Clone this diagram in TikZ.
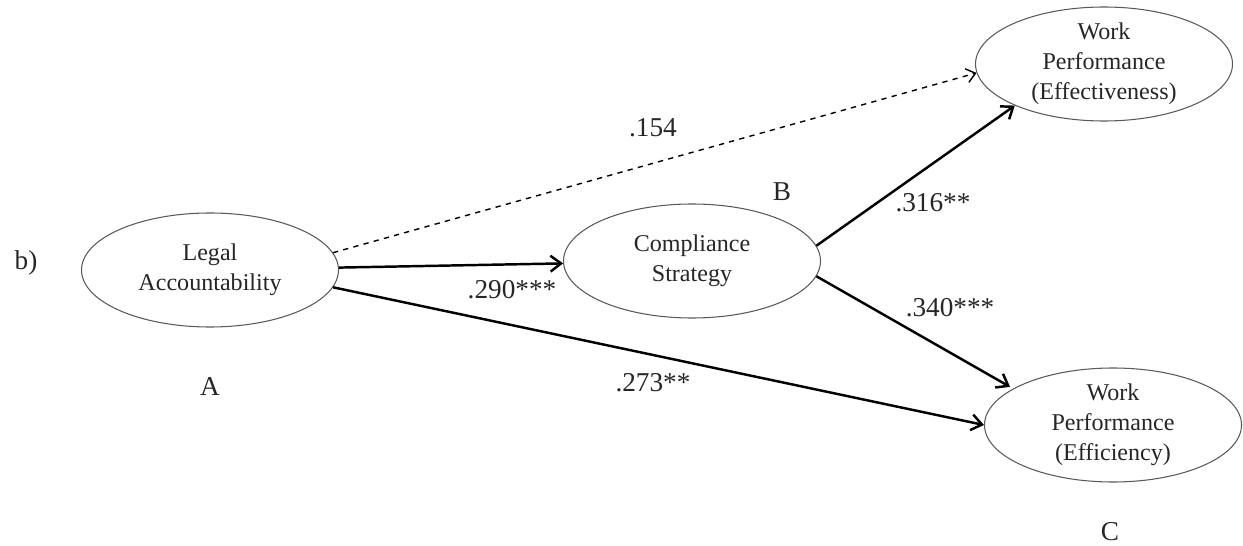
\documentclass[tikz,border=0pt]{standalone}
\usepackage{fontspec}
\setmainfont{Liberation Serif}
\usetikzlibrary{shapes.geometric, arrows.meta, positioning, calc}

\begin{document}
\begin{tikzpicture}[
    var/.style={draw=black!65, line width=0.6pt, ellipse, minimum width=5.14cm, minimum height=2.28cm, inner sep=0pt},
    vtxt/.style={align=center, text=black!85, font=\fontsize{13.7}{17}\selectfont},
    lbl/.style={text=black!85, font=\fontsize{15.5}{18}\selectfont},
    sig/.style={-{Straight Barb[length=6pt,width=9pt]}, line width=1.4pt},
    nsig/.style={-{Straight Barb[length=5pt,width=8pt]}, dashed, line width=0.8pt}
]
    \useasboundingbox (0,0) rectangle (24.86,-10.92);

    \node[var, label={[vtxt]center:{Legal\\Accountability}}] (legal) at (4.2,-5.4) {};
    \node[var, label={[vtxt]center:{Compliance\\Strategy}}] (comp) at (13.84,-5.22) {};
    \node[var, label={[vtxt]center:{Work\\Performance\\(Effectiveness)}}] (effe) at (22.08,-1.28) {};
    \node[var, label={[vtxt]center:{Work\\Performance\\(Efficiency)}}] (effi) at (22.26,-8.5) {};

    \node[lbl] (panel) at (0.52,-5.26) {b)};
    \node[lbl] (ta) at (4.2,-7.74) {A};
    \node[lbl] (tb) at (15.64,-3.84) {B};
    \node[lbl] (tc) at (22.2,-10.64) {C};

    \draw[nsig] (legal.8) -- (effe.184);
    \draw[sig] (legal) -- (comp);
    \draw[sig] (legal.-8) -- (effi.west);
    \draw[sig] (comp.7) -- (effe.205);
    \draw[sig, shorten >=2pt] (comp.-7) -- (effi.160);

    \node[lbl] (c154) at (13.06,-2.56) {.154};
    \node[lbl] (c290) at (10.24,-5.8) {.290***};
    \node[lbl] (c273) at (13.06,-7.66) {.273**};
    \node[lbl] (c316) at (18.66,-4.06) {.316**};
    \node[lbl] (c340) at (19.0,-6.16) {.340***};
\end{tikzpicture}
\end{document}
